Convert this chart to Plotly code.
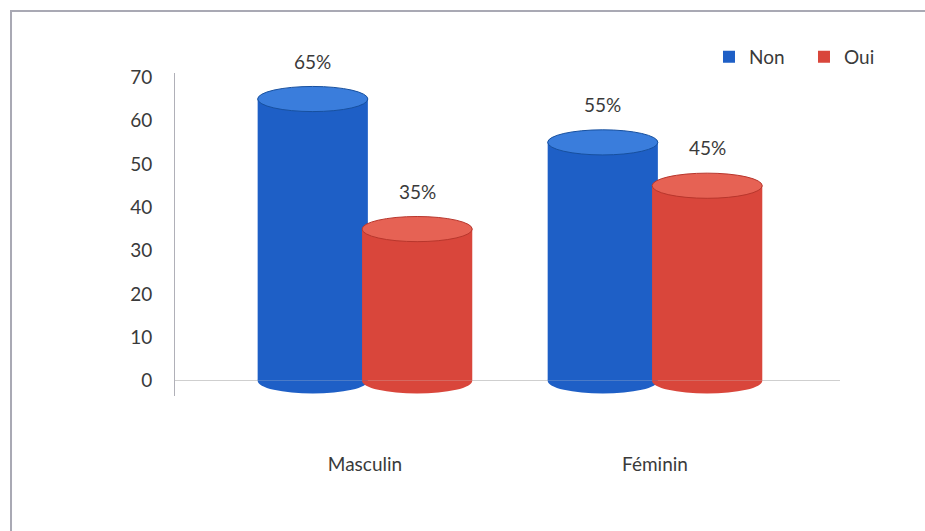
import plotly.graph_objects as go

categories = ["Masculin", "Féminin"]
series_names = ["Non", "Oui"]
non_values = [65, 55]
oui_values = [35, 45]
y_ticks = [0, 10, 20, 30, 40, 50, 60, 70]

body_colors = ["#1e5fc6", "#d9463b"]
cap_colors = ["#3a7ddc", "#e66254"]
edge_colors = ["#17509f", "#b8362c"]
offsets = [-0.37, -0.01]
bar_w = 0.38
cap_h = 2.9

FONT = "Lato, 'Open Sans', sans-serif"
TXT = "#3a3a3a"
idx = list(range(len(categories)))

fig = go.Figure()
shapes = []
annotations = []
for s, (name, vals) in enumerate(zip(series_names, [non_values, oui_values])):
    fig.add_trace(go.Bar(
        x=idx, y=vals, name=name, width=bar_w, offset=offsets[s],
        marker=dict(color=body_colors[s], line=dict(width=0)),
        hovertemplate="%{y}%<extra>" + name + "</extra>",
    ))
    for i, v in zip(idx, vals):
        x0 = i + offsets[s]
        x1 = x0 + bar_w
        # bottom of the cylinder
        shapes.append(dict(type="circle", xref="x", yref="y", x0=x0, x1=x1,
                           y0=-cap_h, y1=cap_h, layer="below",
                           fillcolor=body_colors[s], line=dict(width=0)))
        # top cap
        shapes.append(dict(type="circle", xref="x", yref="y", x0=x0, x1=x1,
                           y0=v - cap_h, y1=v + cap_h, layer="above",
                           fillcolor=cap_colors[s],
                           line=dict(width=1, color=edge_colors[s])))
        annotations.append(dict(x=(x0 + x1) / 2, y=v, xref="x", yref="y",
                                text=f"{v}%", showarrow=False, yshift=38,
                                font=dict(family=FONT, size=19, color=TXT)))

# chart border (right and bottom edges fall outside the picture, as in the reference)
shapes.append(dict(type="rect", xref="paper", yref="paper",
                   x0=-0.2466, x1=1.16, y0=-0.446, y1=1.192,
                   line=dict(color="#a9a9b4", width=2), fillcolor="rgba(0,0,0,0)",
                   layer="below"))

fig.update_layout(
    width=925, height=531,
    margin=dict(l=175, r=85, t=73, b=135, autoexpand=False),
    paper_bgcolor="white", plot_bgcolor="white",
    barmode="overlay",
    shapes=shapes, annotations=annotations,
    font=dict(family=FONT, size=19, color=TXT),
    legend=dict(orientation="h", x=0.803, xanchor="left", y=1.05, yanchor="middle",
                font=dict(family=FONT, size=19, color=TXT),
                itemwidth=30, entrywidth=50, traceorder="normal",
                bgcolor="rgba(0,0,0,0)"),
    xaxis=dict(range=[-0.655, 1.638], tickvals=idx, ticktext=categories,
               showgrid=False, zeroline=False, showline=False, ticks="",
               ticklabelstandoff=55, tickfont=dict(family=FONT, size=19, color=TXT)),
    yaxis=dict(range=[-3.5, 71], tickvals=y_ticks, showgrid=False,
               zeroline=True, zerolinecolor="#cfcfcf", zerolinewidth=1,
               showline=True, linecolor="#b0b0b8", linewidth=1, ticks="",
               ticklabelstandoff=18, tickfont=dict(family=FONT, size=19, color=TXT)),
    showlegend=True,
)

fig.write_html("out.html", config={"displayModeBar": False},
               post_script="document.body.style.margin='0';document.body.style.overflow='hidden';")
